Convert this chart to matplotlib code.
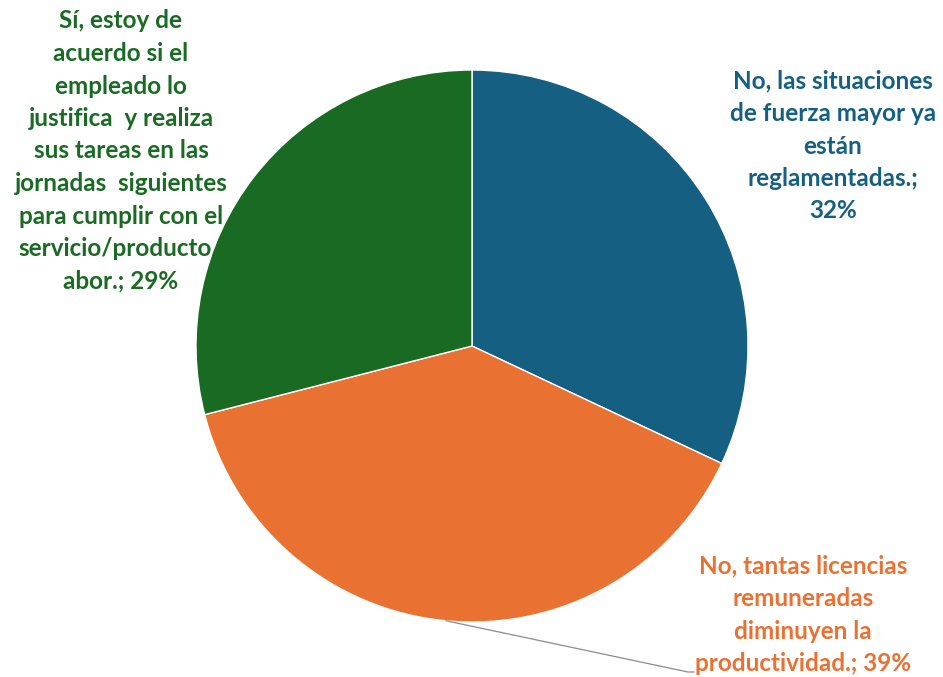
import numpy as np
import matplotlib.pyplot as plt

# data
categorias = ["No, las situaciones de fuerza mayor ya están reglamentadas.",
              "No, tantas licencias remuneradas diminuyen la productividad.",
              "Sí, estoy de acuerdo si el empleado lo justifica y realiza sus tareas en las jornadas siguientes para cumplir con el servicio/producto/labor."]
valores = [32, 39, 29]
colores = ["#156082", "#E97132", "#196B24"]

# label text as broken in the original
lineas = [
    ["No, las situaciones", "de fuerza mayor ya", "están", "reglamentadas.;", "{}%"],
    ["No, tantas licencias", "remuneradas", "diminuyen la", "productividad.; {}%"],
    ["Sí, estoy de", "acuerdo si el", "empleado lo", "justifica  y realiza", "sus tareas en las",
     "jornadas  siguientes", "para cumplir con el", "servicio/producto/", "abor.; {}%"],
]

W, H = 943, 677
fig = plt.figure(figsize=(W / 100, H / 100), dpi=100)
cx, cy, r = 472, 346, 276
ax = fig.add_axes([(cx - r) / W, (H - cy - r) / H, 2 * r / W, 2 * r / H])
ax.pie(valores, colors=colores, startangle=90, counterclock=False, radius=1,
       wedgeprops=dict(edgecolor="white", linewidth=1.0))
ax.set_xlim(-1, 1)
ax.set_ylim(-1, 1)
ax.set_aspect("equal")
ax.axis("off")

# label centers in pixels
pos = [(833, 146), (803, 615), (121, 151)]
for i in range(3):
    txt = "\n".join(lineas[i]).format(valores[i])
    fig.text(pos[i][0] / W, 1 - pos[i][1] / H, txt, ha="center", va="center",
             color=colores[i], fontsize=17.5, fontweight="bold",
             family=["Lato", "DejaVu Sans"], linespacing=1.5)

# leader line for the orange slice
ang = np.deg2rad(90 - 360 * (valores[0] + valores[1] / 2) / sum(valores))
x0, y0 = np.cos(ang), np.sin(ang)
x1, y1 = (688 - cx) / r, (cy - 672) / r
x2 = (694 - cx) / r
ax.plot([x0, x1, x2], [y0, y1, y1], color="#8c8c8c", lw=0.9, clip_on=False)

fig.savefig("out.png", dpi=100)
